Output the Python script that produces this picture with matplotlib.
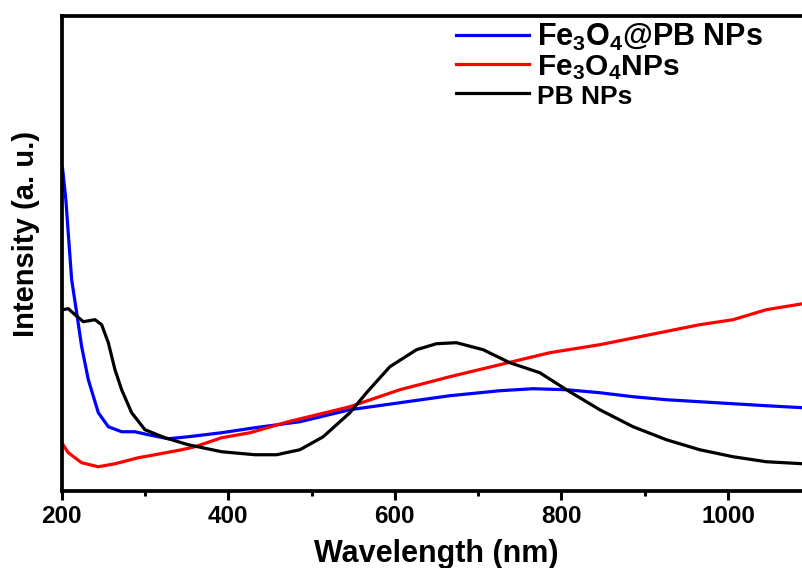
import numpy as np
import matplotlib.pyplot as plt
from matplotlib.ticker import MultipleLocator

plt.rcParams["font.family"] = ["Liberation Sans", "DejaVu Sans"]
plt.rcParams["font.weight"] = "bold"
plt.rcParams["mathtext.default"] = "regular"

# Fe3O4@PB NPs (blue)
wl_core = [201, 205, 209, 212, 218, 224, 232, 244, 256, 272, 288, 304, 328, 352,
           392, 432, 486, 546, 606, 666, 726, 766, 806, 846, 886, 926, 966, 1006,
           1046, 1090]
int_core = [3.23, 2.91, 2.45, 2.11, 1.78, 1.44, 1.11, 0.78, 0.64, 0.59, 0.59, 0.56,
            0.52, 0.54, 0.58, 0.63, 0.69, 0.81, 0.88, 0.95, 1.00, 1.02, 1.01, 0.98,
            0.94, 0.91, 0.89, 0.87, 0.85, 0.83]

# Fe3O4 NPs (red)
wl_fe = [200, 208, 224, 244, 264, 292, 312, 344, 360, 392, 426, 472, 546, 606,
         666, 726, 786, 846, 906, 966, 1006, 1046, 1090]
int_fe = [0.48, 0.38, 0.28, 0.24, 0.27, 0.33, 0.36, 0.41, 0.44, 0.53, 0.58, 0.69,
          0.84, 1.01, 1.14, 1.26, 1.38, 1.46, 1.56, 1.66, 1.71, 1.81, 1.87]

# PB NPs (black)
wl_pb = [201, 208, 216, 226, 240, 248, 256, 264, 272, 284, 300, 324, 352, 392,
         432, 458, 486, 514, 546, 566, 594, 626, 650, 674, 706, 738, 774, 806,
         846, 886, 926, 966, 1006, 1046, 1090]
int_pb = [1.81, 1.82, 1.76, 1.69, 1.71, 1.66, 1.48, 1.21, 1.01, 0.78, 0.61, 0.53,
          0.46, 0.39, 0.36, 0.36, 0.41, 0.54, 0.78, 0.98, 1.24, 1.41, 1.47, 1.48,
          1.41, 1.28, 1.18, 1.01, 0.81, 0.64, 0.51, 0.41, 0.34, 0.29, 0.27]

fig = plt.figure(figsize=(8.03, 5.68), dpi=100)
ax = fig.add_axes([0.0768, 0.136, 0.9232, 0.836])

ax.plot(wl_core, int_core, color="#0000ff", lw=2.3, label="Fe$_3$O$_4$@PB NPs")
ax.plot(wl_fe, int_fe, color="#ff0000", lw=2.3, label="Fe$_3$O$_4$NPs")
ax.plot(wl_pb, int_pb, color="black", lw=2.3, label="PB NPs")

ax.set_xlim(200, 1090)
ax.set_ylim(0, 4.747)
ax.set_yticks([])
ax.xaxis.set_major_locator(MultipleLocator(200))
ax.xaxis.set_minor_locator(MultipleLocator(100))
ax.tick_params(axis="x", which="major", direction="out", length=6.5, width=2.2,
               labelsize=17.5, pad=4)
ax.tick_params(axis="x", which="minor", direction="out", length=3.5, width=2.2)
for lab in ax.get_xticklabels():
    lab.set_fontweight("bold")

ax.spines["right"].set_visible(False)
for s in ["left", "bottom", "top"]:
    ax.spines[s].set_linewidth(2.7)

ax.set_xlabel("Wavelength (nm)", fontsize=22, fontweight="bold")
ax.xaxis.set_label_coords(0.505, -0.102)
ax.set_ylabel("Intensity (a. u.)", fontsize=21, fontweight="bold")
ax.yaxis.set_label_coords(-0.029, 0.54)

leg = ax.legend(loc="upper right", bbox_to_anchor=(0.962, 1.014), frameon=False,
                fontsize=22, handlelength=2.4, handletextpad=0.25,
                labelspacing=0.02, borderaxespad=0.0)
for txt, size in zip(leg.get_texts(), [22, 21.5, 19]):
    txt.set_fontsize(size)
    txt.set_fontweight("bold")

fig.savefig("out.png", dpi=100)
